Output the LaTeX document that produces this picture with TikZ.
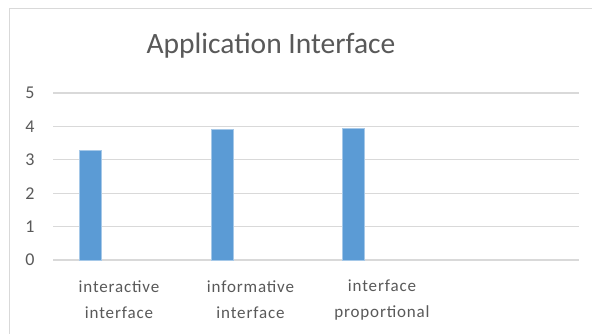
\documentclass[tikz,border=0pt]{standalone}
\usepackage{fontspec}
\setmainfont{Carlito}
\newfontfamily\catfont[LetterSpace=5]{Carlito}
\usepackage{xcolor}
\definecolor{barblue}{HTML}{5B9BD5}
\definecolor{gridgray}{HTML}{D9D9D9}
\definecolor{txtgray}{HTML}{595959}

\begin{document}
\begin{tikzpicture}[x=1pt, y=-1pt, grid line/.style={gridgray, line width=1.3pt}, bar/.style={fill=barblue, draw=barblue!55!white, line width=0.6pt}, tick/.style={txtgray, font=\fontsize{18}{18}\selectfont}, cat/.style={txtgray, align=center, font=\catfont\fontsize{17}{26}\selectfont}]
\useasboundingbox (0,0) rectangle (592,334);
\fill[white] (0,0) rectangle (592,334);
% chart frame
\draw[gridgray, line width=1pt] (9,334) -- (9,8.5) -- (592,8.5);
\node[txtgray, font=\fontsize{29.5}{29.5}\selectfont] (title) at (271,46) {Application Interface};
% grid lines and axis labels
\draw[grid line] (53,260) -- (579,260);
\draw[grid line] (53,226.6) -- (579,226.6);
\draw[grid line] (53,193.2) -- (579,193.2);
\draw[grid line] (53,159.8) -- (579,159.8);
\draw[grid line] (53,126.4) -- (579,126.4);
\draw[grid line] (53,93) -- (579,93);
\node[tick] (t0) at (30,260) {0};
\node[tick] (t1) at (30,226.6) {1};
\node[tick] (t2) at (30,193.2) {2};
\node[tick] (t3) at (30,159.8) {3};
\node[tick] (t4) at (30,126.4) {4};
\node[tick] (t5) at (30,93) {5};
% bars
\draw[bar] (79,260) rectangle (101,150);
\draw[bar] (211,260) rectangle (233,129);
\draw[bar] (342,260) rectangle (364,128);
\node[cat] (c1) at (119,300) {interactive\\interface};
\node[cat] (c2) at (250.5,300) {informative\\interface};
\node[cat] (c3) at (382,300) {interface\\proportional};
\end{tikzpicture}
\end{document}
